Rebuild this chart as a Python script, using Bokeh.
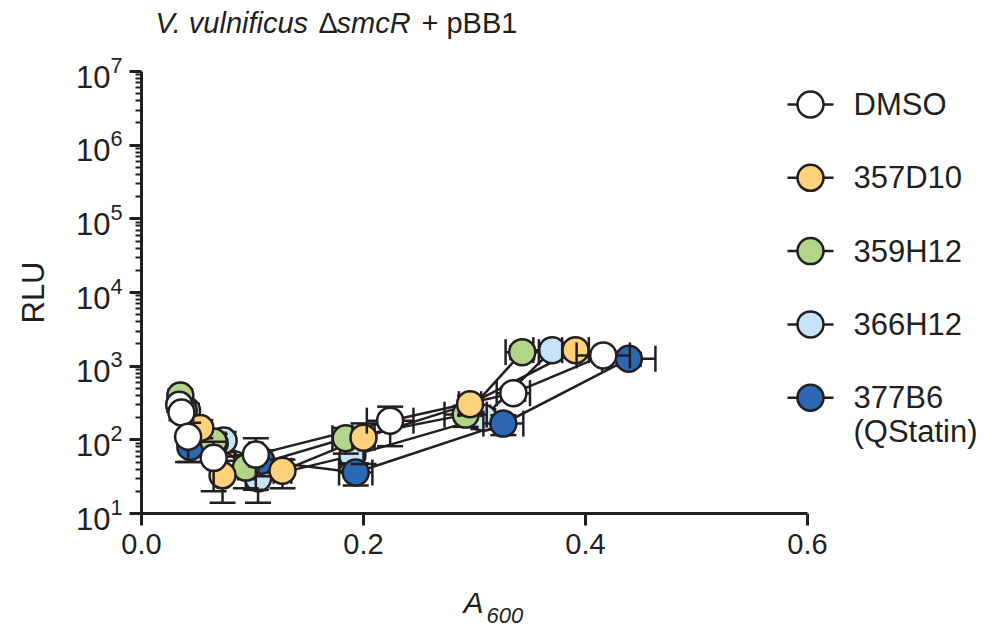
import numpy as np
from bokeh.plotting import figure
from bokeh.models import (Range1d, FixedTicker, PrintfTickFormatter, Label,
                          ColumnDataSource, LinearScale)
from bokeh.embed import file_html
from bokeh.resources import INLINE

# ---------------- data ----------------
SERIES = ["DMSO", "357D10", "359H12", "366H12", "377B6"]
LEGEND_LABELS = ["DMSO", "357D10", "359H12", "366H12", "377B6"]
LEGEND_EXTRA = "(QStatin)"

dmso_x = [0.034, 0.036, 0.042, 0.065, 0.103, 0.224, 0.335, 0.416]
dmso_y = [300, 235, 110, 57, 63, 182, 430, 1400]
dmso_xerr = [0.003, 0.003, 0.004, 0.005, 0.006, 0.021, 0.015, 0.024]
dmso_yerr = [60, 50, 60, 37, 42, 100, 90, 200]

d357_x = [0.038, 0.053, 0.073, 0.127, 0.200, 0.296, 0.391]
d357_y = [250, 145, 33, 38, 107, 305, 1650]
d357_xerr = [0.003, 0.004, 0.005, 0.008, 0.010, 0.010, 0.012]
d357_yerr = [70, 40, 19, 16, 60, 90, 300]

h359_x = [0.035, 0.065, 0.094, 0.184, 0.292, 0.343]
h359_y = [400, 95, 42, 105, 220, 1550]
h359_xerr = [0.003, 0.005, 0.007, 0.012, 0.019, 0.015]
h359_yerr = [80, 30, 20, 40, 70, 300]

h366_x = [0.041, 0.074, 0.105, 0.190, 0.308, 0.370]
h366_y = [250, 98, 30, 61, 200, 1650]
h366_xerr = [0.003, 0.005, 0.007, 0.010, 0.006, 0.017]
h366_yerr = [60, 30, 16, 25, 60, 300]

b377_x = [0.044, 0.066, 0.108, 0.193, 0.326, 0.439]
b377_y = [80, 90, 52, 36, 166, 1260]
b377_xerr = [0.003, 0.004, 0.006, 0.015, 0.018, 0.024]
b377_yerr = [30, 30, 20, 12, 50, 250]

X_TICKS = [0.0, 0.2, 0.4, 0.6]
Y_TICKS = [1e1, 1e2, 1e3, 1e4, 1e5, 1e6, 1e7]

# ---------------- styles ----------------
DARK = "#231F20"
COLORS = {"DMSO": "#FFFFFF", "357D10": "#FDD27B", "359H12": "#B3D58A",
          "366H12": "#C6E4F6", "377B6": "#2B67B3"}
FONT = "Liberation Sans"
MARKER = 26
CAP = 26
LW = 2.5

# layout (canvas pixels); the frame fills the whole canvas, axes are pinned
W, H = 980, 630
AX_L, AX_R, AX_B, AX_T = 141, 807, 513, 71   # pixel positions of x=0, x=0.6, y=1e1, y=1e7

x_per_px = (X_TICKS[-1] - X_TICKS[0]) / (AX_R - AX_L)
x_start = X_TICKS[0] - AX_L * x_per_px
x_end = X_TICKS[0] + (W - AX_L) * x_per_px
dec_per_px = (np.log10(Y_TICKS[-1]) - np.log10(Y_TICKS[0])) / (AX_B - AX_T)
y_start = 10 ** (np.log10(Y_TICKS[0]) - (H - AX_B) * dec_per_px)
y_end = 10 ** (np.log10(Y_TICKS[-1]) + AX_T * dec_per_px)

p = figure(width=W, height=H, x_range=Range1d(x_start, x_end),
           y_range=Range1d(y_start, y_end), y_axis_type="log",
           output_backend="svg", toolbar_location=None,
           min_border_left=0, min_border_top=0, min_border_right=0, min_border_bottom=0)
# pixel helper ranges: x = canvas_x - AX_L, y = AX_B - canvas_y
p.extra_x_ranges = {"px": Range1d(-AX_L, W - AX_L)}
p.extra_y_ranges = {"py": Range1d(AX_B - H, AX_B)}
p.extra_x_scales = {"px": LinearScale()}
p.extra_y_scales = {"py": LinearScale()}

p.outline_line_color = None
p.grid.visible = False
p.background_fill_color = "white"
p.border_fill_color = "white"

for ax in (p.xaxis[0], p.yaxis[0]):
    ax.axis_line_color = DARK
    ax.axis_line_width = 3
    ax.major_tick_line_color = DARK
    ax.major_tick_line_width = 3
    ax.major_tick_out = 12
    ax.major_tick_in = 0
    ax.major_label_text_font = FONT
    ax.major_label_text_color = DARK
    ax.major_label_standoff = 8
p.xaxis.major_label_text_font_size = "29px"
p.yaxis.major_label_text_font_size = "31px"
p.yaxis.major_label_standoff = 7

p.xaxis.fixed_location = Y_TICKS[0]
p.yaxis.fixed_location = X_TICKS[0]

p.xaxis.ticker = FixedTicker(ticks=X_TICKS)
p.xaxis.formatter = PrintfTickFormatter(format="%.1f")
p.xaxis.minor_tick_line_color = None
p.xaxis.bounds = (X_TICKS[0], X_TICKS[-1])

minor = [m * t for t in Y_TICKS[:-1] for m in range(2, 10)]
p.yaxis.ticker = FixedTicker(ticks=Y_TICKS, minor_ticks=minor)
p.yaxis.minor_tick_line_color = DARK
p.yaxis.minor_tick_line_width = 1.8
p.yaxis.minor_tick_out = 6
p.yaxis.minor_tick_in = 0
p.yaxis.bounds = (Y_TICKS[0], Y_TICKS[-1])

data = {
    "DMSO": (dmso_x, dmso_y, dmso_xerr, dmso_yerr),
    "357D10": (d357_x, d357_y, d357_xerr, d357_yerr),
    "359H12": (h359_x, h359_y, h359_xerr, h359_yerr),
    "366H12": (h366_x, h366_y, h366_xerr, h366_yerr),
    "377B6": (b377_x, b377_y, b377_xerr, b377_yerr),
}

# connecting lines first
for name in SERIES:
    xs, ys, _, _ = data[name]
    p.line(xs, ys, line_color=DARK, line_width=LW)

# draw order bottom -> top
DRAW_ORDER = ["366H12", "377B6", "359H12", "357D10", "DMSO"]
for name in DRAW_ORDER:
    xs, ys, xe, ye = (np.array(a, dtype=float) for a in data[name])
    src = ColumnDataSource(dict(x=xs, y=ys, xl=xs - xe, xr=xs + xe,
                                yl=ys - ye, yu=ys + ye))
    p.segment(x0="xl", y0="y", x1="xr", y1="y", source=src, line_color=DARK, line_width=LW)
    p.segment(x0="x", y0="yl", x1="x", y1="yu", source=src, line_color=DARK, line_width=LW)
    for cx, cy, ang in (("xl", "y", np.pi / 2), ("xr", "y", np.pi / 2),
                        ("x", "yl", 0.0), ("x", "yu", 0.0)):
        p.scatter(x=cx, y=cy, source=src, marker="dash", angle=ang, size=CAP,
                  line_color=DARK, line_width=LW)
    p.scatter(x="x", y="y", source=src, marker="circle", size=MARKER,
              fill_color=COLORS[name], line_color=DARK, line_width=LW)


def fx(cx):
    return cx - AX_L


def fy(cy):
    return AX_B - cy


def label(text, px, py, size="29px", style="normal", align="left",
          baseline="middle", angle=0.0):
    p.add_layout(Label(x=fx(px), y=fy(py), x_range_name="px", y_range_name="py",
                       text=text, text_font=FONT, text_font_size=size,
                       text_font_style=style, text_color=DARK, text_align=align,
                       text_baseline=baseline, angle=angle))


# ---------------- legend ----------------
LEG_TOP, LEG_STEP = 104, 73.3
LEG_CX, LEG_HALF, LEG_TX = 810, 23, 853
leg_y = [fy(LEG_TOP + i * LEG_STEP) for i in range(len(LEGEND_LABELS))]
leg_src = ColumnDataSource(dict(
    y=leg_y, x=[fx(LEG_CX)] * len(leg_y),
    x0=[fx(LEG_CX - LEG_HALF)] * len(leg_y), x1=[fx(LEG_CX + LEG_HALF)] * len(leg_y),
    c=[COLORS[s] for s in SERIES]))
p.segment(x0="x0", y0="y", x1="x1", y1="y", source=leg_src, line_color=DARK,
          line_width=LW, x_range_name="px", y_range_name="py")
p.scatter(x="x", y="y", source=leg_src, marker="circle", size=MARKER, fill_color="c",
          line_color=DARK, line_width=LW, x_range_name="px", y_range_name="py")
for i, t in enumerate(LEGEND_LABELS):
    label(t, LEG_TX, LEG_TOP + i * LEG_STEP, size="31px")
label(LEGEND_EXTRA, LEG_TX, LEG_TOP + (len(LEGEND_LABELS) - 1) * LEG_STEP + 34, size="31px")

# ---------------- title ----------------
TS = "29px"
TC = 22   # vertical middle of the title line
label("V. vulnificus", 155, TC, size=TS, style="italic")
label("\u0394", 318, TC, size=TS)
label("smcR", 336, TC, size=TS, style="italic")
label("+ pBB1", 421, TC, size=TS)

# ---------------- axis titles ----------------
label("RLU", 33, 292, size="31px", align="center", angle=np.pi / 2)
label("A", 463, 602, size="30px", style="italic")
label("600", 486, 615, size="22px", style="italic")

open("out.html", "w").write(file_html(p, INLINE))
